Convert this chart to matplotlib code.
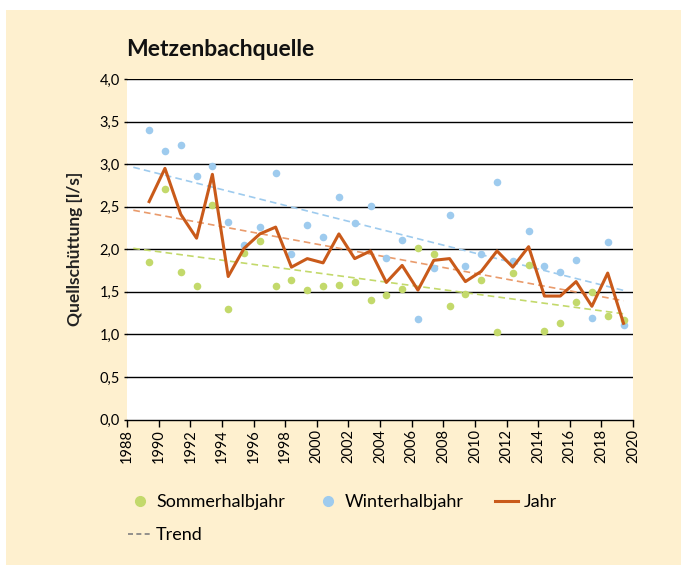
import numpy as np
import matplotlib
matplotlib.use('Agg')
import matplotlib.pyplot as plt
from matplotlib.lines import Line2D
from matplotlib.patches import Rectangle

plt.rcParams['font.family'] = ['Lato', 'DejaVu Sans']

# Abflussdaten Metzenbachquelle
jahre = list(range(1989, 2020))
sommer = [1.85, 2.71, 1.73, 1.57, 2.52, 1.30, 1.96, 2.10, 1.57, 1.64,
          1.52, 1.57, 1.58, 1.61, 1.40, 1.46, 1.53, 2.02, 1.95, 1.33,
          1.47, 1.64, 1.03, 1.72, 1.81, 1.04, 1.13, 1.38, 1.50, 1.22, 1.17]
winter = [3.40, 3.16, 3.22, 2.86, 2.98, 2.32, 2.05, 2.26, 2.90, 1.95,
          2.28, 2.14, 2.61, 2.31, 2.51, 1.90, 2.11, 1.18, 1.78, 2.40,
          1.80, 1.95, 2.79, 1.86, 2.21, 1.80, 1.73, 1.87, 1.19, 2.08, 1.11]
jahr = [2.56, 2.95, 2.41, 2.13, 2.88, 1.68, 2.01, 2.18, 2.26, 1.79,
        1.89, 1.84, 2.18, 1.89, 1.98, 1.61, 1.81, 1.52, 1.87, 1.89,
        1.62, 1.74, 1.98, 1.79, 2.03, 1.45, 1.45, 1.62, 1.33, 1.72, 1.13]

c_sommer = '#c3d96b'
c_winter = '#9ecbee'
c_jahr = '#c95a1a'
c_trend_jahr = '#e99b6c'

x = np.array(jahre) + 0.4

fig = plt.figure(figsize=(6.83, 5.65), dpi=100)
# cremefarbener Hintergrund
fig.patches.append(Rectangle((6/683, 0), 675/683, 1 - 10/565, transform=fig.transFigure,
                             facecolor='#fef0cf', edgecolor='none', zorder=-5))
ax = fig.add_axes([127/683, 1 - 419.5/565, 506/683, 340.5/565])
ax.set_facecolor('white')

# Gitterlinien
for v in np.arange(0.5, 4.01, 0.5):
    ax.axhline(v, color='black', lw=1.0, zorder=1)

# Trendlinien (lineare Regression)
xt = np.array([x[0] - 1, x[-1]])
for werte, farbe in [(winter, c_winter), (jahr, c_trend_jahr), (sommer, c_sommer)]:
    k, d = np.polyfit(x, werte, 1)
    ax.plot(xt, k * xt + d, color=farbe, lw=1.2, dashes=(4, 2.5), zorder=2)

ax.scatter(x, winter, s=30, color=c_winter, zorder=3, linewidths=0)
ax.scatter(x, sommer, s=30, color=c_sommer, zorder=3, linewidths=0)
ax.plot(x, jahr, color=c_jahr, lw=2.2, zorder=4)

ax.set_xlim(1988, 2020)
ax.set_ylim(0, 4.0)
ax.set_xticks(range(1988, 2021, 2))
ax.set_xticklabels([str(j) for j in range(1988, 2021, 2)], rotation=90, fontsize=10.5)
ax.set_yticks(np.arange(0, 4.01, 0.5))
ax.set_yticklabels([('%.1f' % v).replace('.', ',') for v in np.arange(0, 4.01, 0.5)], fontsize=10.5)
ax.tick_params(axis='y', length=2, width=1, pad=3)
ax.tick_params(axis='x', length=5, width=1, pad=2)
for s in ['top', 'right', 'left']:
    ax.spines[s].set_visible(False)
ax.spines['bottom'].set_linewidth(1.0)

ax.set_ylabel('Quellschüttung [l/s]', fontsize=12.5, fontweight='bold', color='#222222', labelpad=12)
fig.text(126/683, 1 - 50/565, 'Metzenbachquelle', fontsize=16.5, fontweight='bold',
         va='center', ha='left', color='#111111')

handles = [
    Line2D([], [], marker='o', ls='none', color=c_sommer, markersize=7),
    Line2D([], [], color='#808080', lw=1.2, dashes=(3, 2)),
    Line2D([], [], marker='o', ls='none', color=c_winter, markersize=7),
    Line2D([], [], color=c_jahr, lw=2.2),
]
labels = ['Sommerhalbjahr', 'Trend', 'Winterhalbjahr', 'Jahr']
fig.legend(handles, labels, loc='upper left', bbox_to_anchor=(112/683, 1 - 478/565),
           ncol=3, frameon=False, fontsize=13, handlelength=1.25, handletextpad=0.3,
           columnspacing=1.75, labelspacing=0.95)

fig.savefig('out.png', dpi=100)
